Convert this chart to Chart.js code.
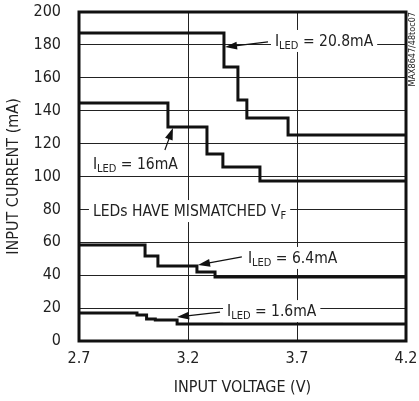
<!DOCTYPE html>
<html>
<head>
<meta charset="utf-8">
<script src="https://cdn.jsdelivr.net/npm/chart.js@4.4.0/dist/chart.umd.min.js"></script>
<style>
  html, body { margin: 0; padding: 0; background: #fff; }
  #wrap { width: 419px; height: 401px; }
</style>
</head>
<body>
<div id="wrap"><canvas id="vinChart" width="419" height="401"></canvas></div>
<script>
// step breakpoints (V, mA)
const v208 = [2.7, 3.365, 3.429, 3.47, 3.659, 4.2]
const i208 = [187.2, 166.6, 146.5, 135.6, 125.2, 125.2]
const v16 = [2.7, 3.108, 3.287, 3.36, 3.53, 4.2]
const i16 = [144.7, 130.1, 113.7, 105.8, 97.3, 97.3]
const v64 = [2.7, 3.003, 3.062, 3.241, 3.324, 4.2]
const i64 = [58.4, 51.7, 45.6, 41.9, 38.9, 38.9]
const v16a = [2.7, 2.966, 3.01, 3.05, 3.15, 4.2]
const i16a = [17.0, 15.8, 13.4, 12.8, 10.3, 10.3]

const xTicks = [2.7, 3.2, 3.7, 4.2]
const yTicks = [0, 20, 40, 60, 80, 100, 120, 140, 160, 180, 200]

const FONT = "'DejaVu Sans Condensed', 'Liberation Sans', sans-serif"

// label text, position in data units, optional arrow (tail -> tip)
const notes = [
  { parts: [['I', 0], ['LED', 1], [' = 20.8mA', 0]], x: 3.599, y: 183, arrow: [3.567, 181.8, 3.37, 178.7] },
  { parts: [['I', 0], ['LED', 1], [' = 16mA', 0]], x: 2.764, y: 108.2, arrow: [3.094, 116.1, 3.131, 129.5] },
  { parts: [['LEDs HAVE MISMATCHED V', 0], ['F', 1]], x: 2.764, y: 79.6 },
  { parts: [['I', 0], ['LED', 1], [' = 6.4mA', 0]], x: 3.475, y: 51.1, arrow: [3.447, 51.1, 3.246, 46.2] },
  { parts: [['I', 0], ['LED', 1], [' = 1.6mA', 0]], x: 3.379, y: 18.8, arrow: [3.347, 17.6, 3.15, 14.6] },
]

const toPts = (vs, is) => vs.map((v, k) => ({ x: v, y: is[k] }))

const mkSet = (vs, is) => ({
  data: toPts(vs, is),
  borderColor: '#111',
  borderWidth: 3,
  pointRadius: 0,
  stepped: 'before',
  fill: false,
})

const notesPlugin = {
  id: 'notes',
  afterDraw(chart) {
    const { ctx, scales, chartArea } = chart
    const sx = scales.x, sy = scales.y
    ctx.save()
    notes.forEach(n => {
      const px = sx.getPixelForValue(n.x)
      const py = sy.getPixelForValue(n.y)
      let w = 0
      n.parts.forEach(([t, sub]) => {
        ctx.font = (sub ? 11 : 15.5) + 'px ' + FONT
        w += ctx.measureText(t).width
      })
      ctx.fillStyle = '#fff'
      ctx.fillRect(px - 4, py - 10, w + 8, 22)
      let cx = px
      ctx.fillStyle = '#222'
      ctx.textBaseline = 'alphabetic'
      ctx.textAlign = 'left'
      n.parts.forEach(([t, sub]) => {
        ctx.font = (sub ? 11 : 15.5) + 'px ' + FONT
        ctx.fillText(t, cx, py + (sub ? 9 : 6))
        cx += ctx.measureText(t).width
      })
      if (n.arrow) {
        const [x0, y0, x1, y1] = n.arrow
        const ax = sx.getPixelForValue(x0), ay = sy.getPixelForValue(y0)
        const bx = sx.getPixelForValue(x1), by = sy.getPixelForValue(y1)
        const ang = Math.atan2(by - ay, bx - ax)
        ctx.strokeStyle = '#111'
        ctx.lineWidth = 1.2
        ctx.beginPath()
        ctx.moveTo(ax, ay)
        ctx.lineTo(bx - 10 * Math.cos(ang), by - 10 * Math.sin(ang))
        ctx.stroke()
        ctx.fillStyle = '#111'
        ctx.beginPath()
        ctx.moveTo(bx, by)
        ctx.lineTo(bx - 12 * Math.cos(ang) + 4 * Math.sin(ang), by - 12 * Math.sin(ang) - 4 * Math.cos(ang))
        ctx.lineTo(bx - 12 * Math.cos(ang) - 4 * Math.sin(ang), by - 12 * Math.sin(ang) + 4 * Math.cos(ang))
        ctx.closePath()
        ctx.fill()
      }
    })
    // heavy frame
    ctx.strokeStyle = '#111'
    ctx.lineWidth = 3
    ctx.strokeRect(chartArea.left, chartArea.top, chartArea.right - chartArea.left, chartArea.bottom - chartArea.top)
    // part number at right edge
    ctx.translate(413, chartArea.top)
    ctx.rotate(-Math.PI / 2)
    ctx.font = '9px ' + FONT
    ctx.fillStyle = '#222'
    ctx.textAlign = 'right'
    ctx.textBaseline = 'middle'
    ctx.fillText('MAX8647/48toc07', 0, 0)
    ctx.restore()
  }
}

new Chart(document.getElementById('vinChart').getContext('2d'), {
  type: 'line',
  data: {
    datasets: [mkSet(v208, i208), mkSet(v16, i16), mkSet(v64, i64), mkSet(v16a, i16a)],
  },
  options: {
    responsive: false,
    animation: false,
    layout: { padding: { top: 12, right: 13, left: 0, bottom: 0 } },
    plugins: { legend: { display: false }, tooltip: { enabled: false } },
    scales: {
      x: {
        type: 'linear',
        min: 2.7,
        max: 4.2,
        afterBuildTicks: s => { s.ticks = xTicks.map(v => ({ value: v })) },
        afterFit: s => { s.height = 60; s.paddingLeft = 0; s.paddingRight = 0 },
        grid: { color: '#222', lineWidth: 1, drawTicks: false },
        border: { display: false },
        ticks: { color: '#222', font: { family: FONT, size: 16 }, padding: 8, maxRotation: 0, callback: v => v.toFixed(1) },
        title: { display: true, text: 'INPUT VOLTAGE (V)', color: '#222', font: { family: FONT, size: 16 }, padding: { top: 4 } },
      },
      y: {
        min: 0,
        max: 200,
        afterBuildTicks: s => { s.ticks = yTicks.map(v => ({ value: v })) },
        afterFit: s => { s.width = 79; s.paddingTop = 0; s.paddingBottom = 0 },
        grid: { color: '#222', lineWidth: 1, drawTicks: false },
        border: { display: false },
        ticks: { color: '#222', font: { family: FONT, size: 16 }, padding: 18 },
        title: { display: true, text: 'INPUT CURRENT (mA)', color: '#222', font: { family: FONT, size: 16 }, padding: { bottom: 2 } },
      },
    },
  },
  plugins: [notesPlugin],
})
</script>
</body>
</html>
